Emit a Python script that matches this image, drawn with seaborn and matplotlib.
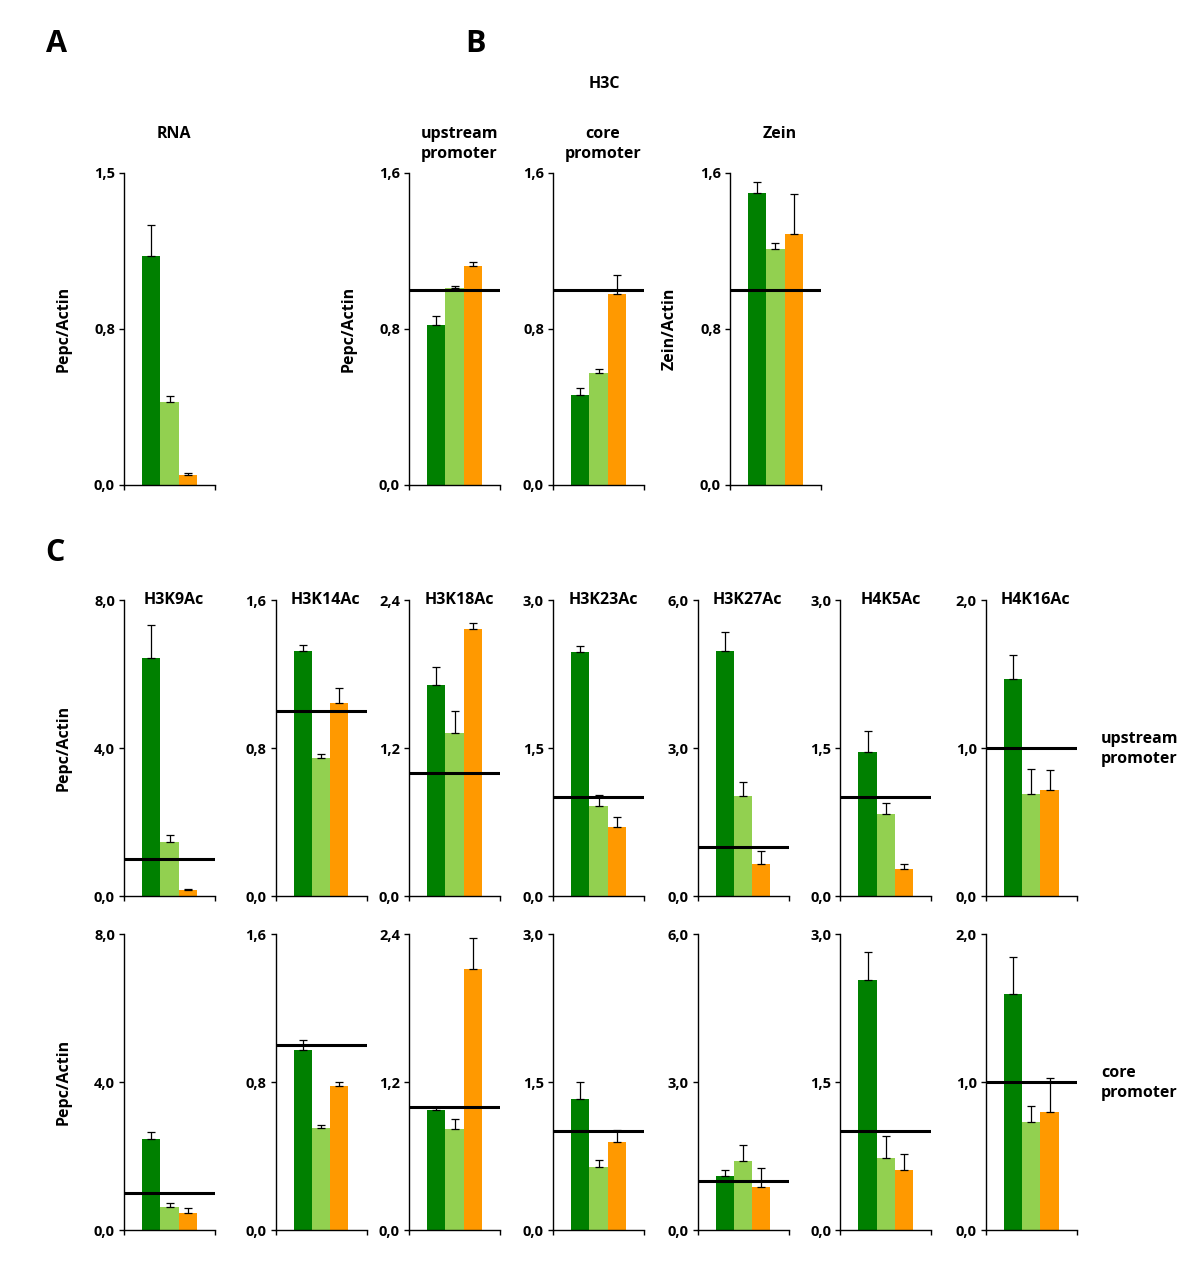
import pandas as pd
import numpy as np
import matplotlib
matplotlib.use("Agg")
import matplotlib.pyplot as plt
import seaborn as sns

# three sample groups (dark green, light green, orange)
conditions = ["c1", "c2", "c3"]
colors = ["#008000", "#92D050", "#FF9900"]
ref_level = 1.0

# panel A - RNA
rna_vals = [1.10, 0.40, 0.048]
rna_err = [0.15, 0.03, 0.008]
rna_ticklabels = ["0,0", "0,8", "1,5"]
rna_ymax = 1.5

# panel B - H3C
b_titles = ["upstream\npromoter", "core\npromoter", "Zein"]
b_ylabels = ["Pepc/Actin", None, "Zein/Actin"]
b_vals = [[0.82, 1.01, 1.125], [0.46, 0.573, 0.978], [1.50, 1.21, 1.285]]
b_err = [[0.045, 0.01, 0.017], [0.04, 0.024, 0.10], [0.055, 0.03, 0.205]]
b_ticklabels = ["0,0", "0,8", "1,6"]
b_ymax = 1.6

# panel C - acetylation marks
c_marks = ["H3K9Ac", "H3K14Ac", "H3K18Ac", "H3K23Ac", "H3K27Ac", "H4K5Ac", "H4K16Ac"]
c_ymax = [8.0, 1.6, 2.4, 3.0, 6.0, 3.0, 2.0]
c_ticklabels = [["0,0", "4,0", "8,0"], ["0,0", "0,8", "1,6"], ["0,0", "1,2", "2,4"],
                ["0,0", "1,5", "3,0"], ["0,0", "3,0", "6,0"], ["0,0", "1,5", "3,0"],
                ["0,0", "1,0", "2,0"]]
c_regions = ["upstream\npromoter", "core\npromoter"]

upstream_vals = [[6.42, 1.45, 0.154], [1.324, 0.747, 1.043], [1.708, 1.318, 2.162],
                 [2.47, 0.912, 0.695], [4.965, 2.017, 0.657], [1.458, 0.829, 0.274],
                 [1.466, 0.686, 0.715]]
upstream_err = [[0.90, 0.20, 0.03], [0.033, 0.021, 0.083], [0.151, 0.182, 0.048],
                [0.06, 0.11, 0.11], [0.38, 0.30, 0.25], [0.21, 0.11, 0.05],
                [0.162, 0.171, 0.135]]
core_vals = [[2.47, 0.62, 0.46], [0.974, 0.554, 0.778], [0.969, 0.815, 2.118],
             [1.328, 0.637, 0.894], [1.09, 1.394, 0.88], [2.53, 0.734, 0.606],
             [1.592, 0.728, 0.796]]
core_err = [[0.17, 0.11, 0.13], [0.054, 0.013, 0.022], [0.027, 0.089, 0.252],
            [0.176, 0.068, 0.115], [0.12, 0.326, 0.38], [0.29, 0.214, 0.162],
            [0.255, 0.109, 0.23]]

sns.set_style("white")
plt.rcParams['font.family'] = ['Open Sans', 'DejaVu Sans']
plt.rcParams['font.weight'] = 'bold'
plt.rcParams['text.color'] = 'black'
plt.rcParams['axes.labelcolor'] = 'black'
plt.rcParams['xtick.color'] = 'black'
plt.rcParams['ytick.color'] = 'black'

W, H = 1200, 1286
fig = plt.figure(figsize=(W / 100, H / 100), dpi=100)


def make_ax(left, top, bottom, width=91):
    return fig.add_axes([left / W, 1 - bottom / H, width / W, (bottom - top) / H])


def draw_bars(ax, vals, errs, ymax, ticklabels, line=True):
    df = pd.DataFrame({"cond": conditions, "value": vals})
    sns.barplot(data=df, x="cond", y="value", hue="cond", palette=colors,
                width=1.0, errorbar=None, legend=False, ax=ax, saturation=1,
                linewidth=0)
    xs = [p.get_x() + p.get_width() / 2 for p in ax.patches]
    ax.errorbar(xs, vals, yerr=[np.zeros(len(errs)), errs], fmt='none',
                ecolor='black', elinewidth=0.9, capsize=2.7, capthick=0.9, zorder=3)
    if line:
        ax.axhline(ref_level, color='black', lw=2.2, zorder=4)
    ax.set_xlim(-1.5, 3.5)
    ax.set_ylim(0, ymax)
    ax.set_yticks([0, ymax / 2, ymax])
    ax.set_yticklabels(ticklabels, fontsize=10.5, fontweight='bold', color='black')
    ax.set_xticks([-1.5, 3.5])
    ax.set_xticklabels(["", ""])
    ax.set_xlabel("")
    ax.set_ylabel("")
    sns.despine(ax=ax)
    for s in ["left", "bottom"]:
        ax.spines[s].set_linewidth(1.0)
        ax.spines[s].set_color('black')
    ax.tick_params(axis='both', direction='out', length=3.5, width=1.0,
                   color='black', left=True, bottom=True, pad=3)


def add_ylabel(ax, text):
    ax.set_ylabel(text, fontsize=11.5, fontweight='bold', color='black')
    ax.yaxis.set_label_coords(-0.58, 0.5)


def add_title_top(ax, text):
    ax.text(0.55, 1.15, text, transform=ax.transAxes, ha='center', va='top',
            fontsize=11.5, fontweight='bold', linespacing=1.3, color='black')


# panel A
ax = make_ax(124, 173, 485)
draw_bars(ax, rna_vals, rna_err, rna_ymax, rna_ticklabels, line=False)
add_ylabel(ax, "Pepc/Actin")
add_title_top(ax, "RNA")

# panel B
for left, title, ylab, vals, errs in zip([409, 553, 730], b_titles, b_ylabels, b_vals, b_err):
    ax = make_ax(left, 173, 485)
    draw_bars(ax, vals, errs, b_ymax, b_ticklabels)
    add_title_top(ax, title)
    if ylab:
        add_ylabel(ax, ylab)

# panel C
c_lefts = [124, 275.5, 409, 553, 697.6, 840.3, 985.8]
rows = [(600, 896, upstream_vals, upstream_err), (934, 1230, core_vals, core_err)]
for r, (top, bottom, vals_set, err_set) in enumerate(rows):
    for i, mark in enumerate(c_marks):
        ax = make_ax(c_lefts[i], top, bottom)
        draw_bars(ax, vals_set[i], err_set[i], c_ymax[i], c_ticklabels[i])
        if r == 0:
            ax.text(0.55, 1.0, mark, transform=ax.transAxes, ha='center', va='center',
                    fontsize=11.5, fontweight='bold', color='black')
        if i == 0:
            add_ylabel(ax, "Pepc/Actin")
    fig.text(1101 / W, 1 - ((top + bottom) / 2 + 1) / H, c_regions[r], ha='left',
             va='center', fontsize=11.5, fontweight='bold', linespacing=1.3)

fig.text(604 / W, 1 - 84 / H, "H3C", ha='center', va='center', fontsize=11.5, fontweight='bold')
fig.text(57 / W, 1 - 44 / H, "A", ha='center', va='center', fontsize=22, fontweight='bold')
fig.text(475 / W, 1 - 44 / H, "B", ha='center', va='center', fontsize=22, fontweight='bold')
fig.text(55 / W, 1 - 553 / H, "C", ha='center', va='center', fontsize=22, fontweight='bold')

fig.savefig("out.png", dpi=100)
